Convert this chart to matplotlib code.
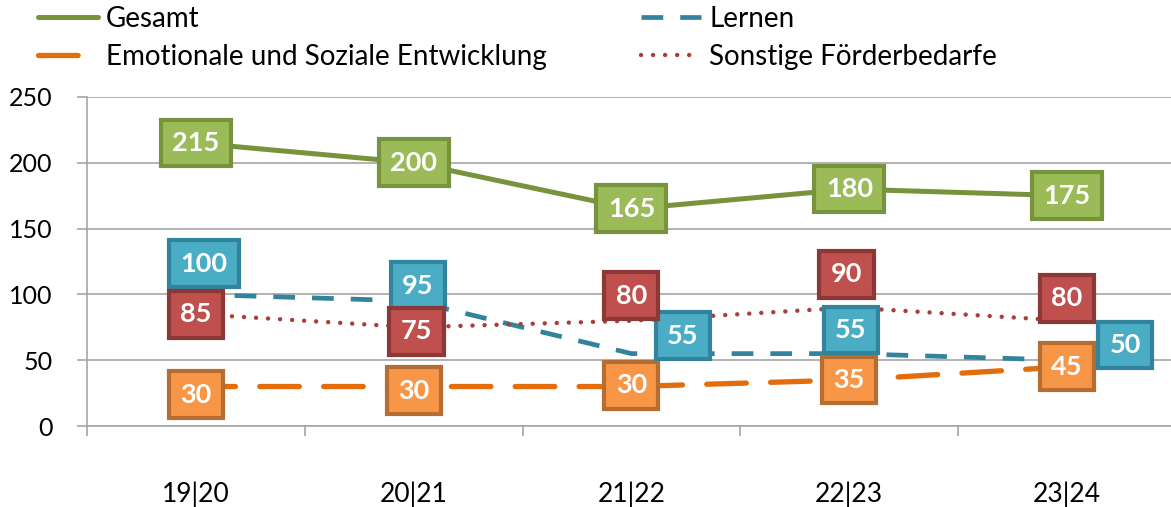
import numpy as np
import matplotlib.pyplot as plt

plt.rcParams['font.family'] = ['Lato', 'DejaVu Sans']

# Daten
jahre = ['19|20', '20|21', '21|22', '22|23', '23|24']
gesamt = [215, 200, 165, 180, 175]
lernen = [100, 95, 55, 55, 50]
emotional = [30, 30, 30, 35, 45]
sonstige = [85, 75, 80, 90, 80]

# Versatz der Beschriftungen (Punkte), nur Gestaltung
off_gesamt = [(0, 0), (0, 0), (0, 0), (0, 0), (0, 0)]
off_lernen = [(6, 22), (3, 11), (37, 13), (1, 17), (42, 11)]
off_emotional = [(0, -6), (0, -3), (0, 1), (0, 0), (0, 0)]
off_sonstige = [(0, 0), (2, -3), (0, 18), (-2, 24), (0, 16)]

fig = plt.figure(figsize=(11.71, 5.07), dpi=100)
ax = fig.add_axes([87 / 1171, 81 / 507, 1089 / 1171, 329 / 507])

x = np.arange(len(jahre))

l1, = ax.plot(x, gesamt, '-', color='#77933C', lw=3.6, solid_capstyle='round', label='Gesamt')
l3, = ax.plot(x, lernen, '--', color='#31849B', lw=3.4, dashes=(4.6, 3.6), label='Lernen')
l2, = ax.plot(x, emotional, '--', color='#E46C0A', lw=3.8, dashes=(7.5, 4.6),
              dash_capstyle='round', label='Emotionale und Soziale Entwicklung')
l4, = ax.plot(x, sonstige, ':', color='#A5403D', lw=3.2, dashes=(0.01, 2.7),
              dash_capstyle='round', label='Sonstige Förderbedarfe')


def labels(werte, versatz, fc, ec):
    for i, v in enumerate(werte):
        ax.annotate(str(v), (x[i], v), xytext=versatz[i], textcoords='offset points',
                    ha='center', va='center', fontsize=19.5, fontweight='bold', color='white',
                    bbox=dict(boxstyle='square,pad=0.42', fc=fc, ec=ec, lw=3.0), zorder=5)


labels(emotional, off_emotional, '#F79646', '#B66D31')
labels(lernen, off_lernen, '#4BACC6', '#31849B')
labels(sonstige, off_sonstige, '#C0504D', '#8C3836')
labels(gesamt, off_gesamt, '#9BBB59', '#77933C')

ax.set_xlim(-0.5, 4.5)
ax.set_ylim(0, 250)
ax.set_yticks(np.arange(0, 251, 50))
ax.grid(axis='y', color='#A6A6A6', lw=1.2)
ax.set_axisbelow(True)

ax.set_xticks(np.arange(-0.5, 5, 1))
ax.set_xticklabels([])
ax.set_xticks(x, minor=True)
ax.set_xticklabels(jahre, minor=True)
ax.tick_params(axis='x', which='major', length=7, width=1.2, color='#A6A6A6', direction='out')
ax.tick_params(axis='x', which='minor', length=0, pad=40, labelsize=19)
ax.tick_params(axis='y', length=7, width=1.2, color='#A6A6A6', pad=18, labelsize=18)

for s in ['top', 'right']:
    ax.spines[s].set_visible(False)
for s in ['left', 'bottom']:
    ax.spines[s].set_color('#A6A6A6')
    ax.spines[s].set_linewidth(1.2)

fig.legend(handles=[l1, l2, l3, l4], loc='upper left', bbox_to_anchor=(38 / 1171, 1 - 6 / 507),
           ncol=2, frameon=False, fontsize=20, handlelength=2.15, handletextpad=0.3,
           labelspacing=0.42, columnspacing=3.4, borderpad=0, borderaxespad=0)

fig.savefig('out.png', dpi=100)
